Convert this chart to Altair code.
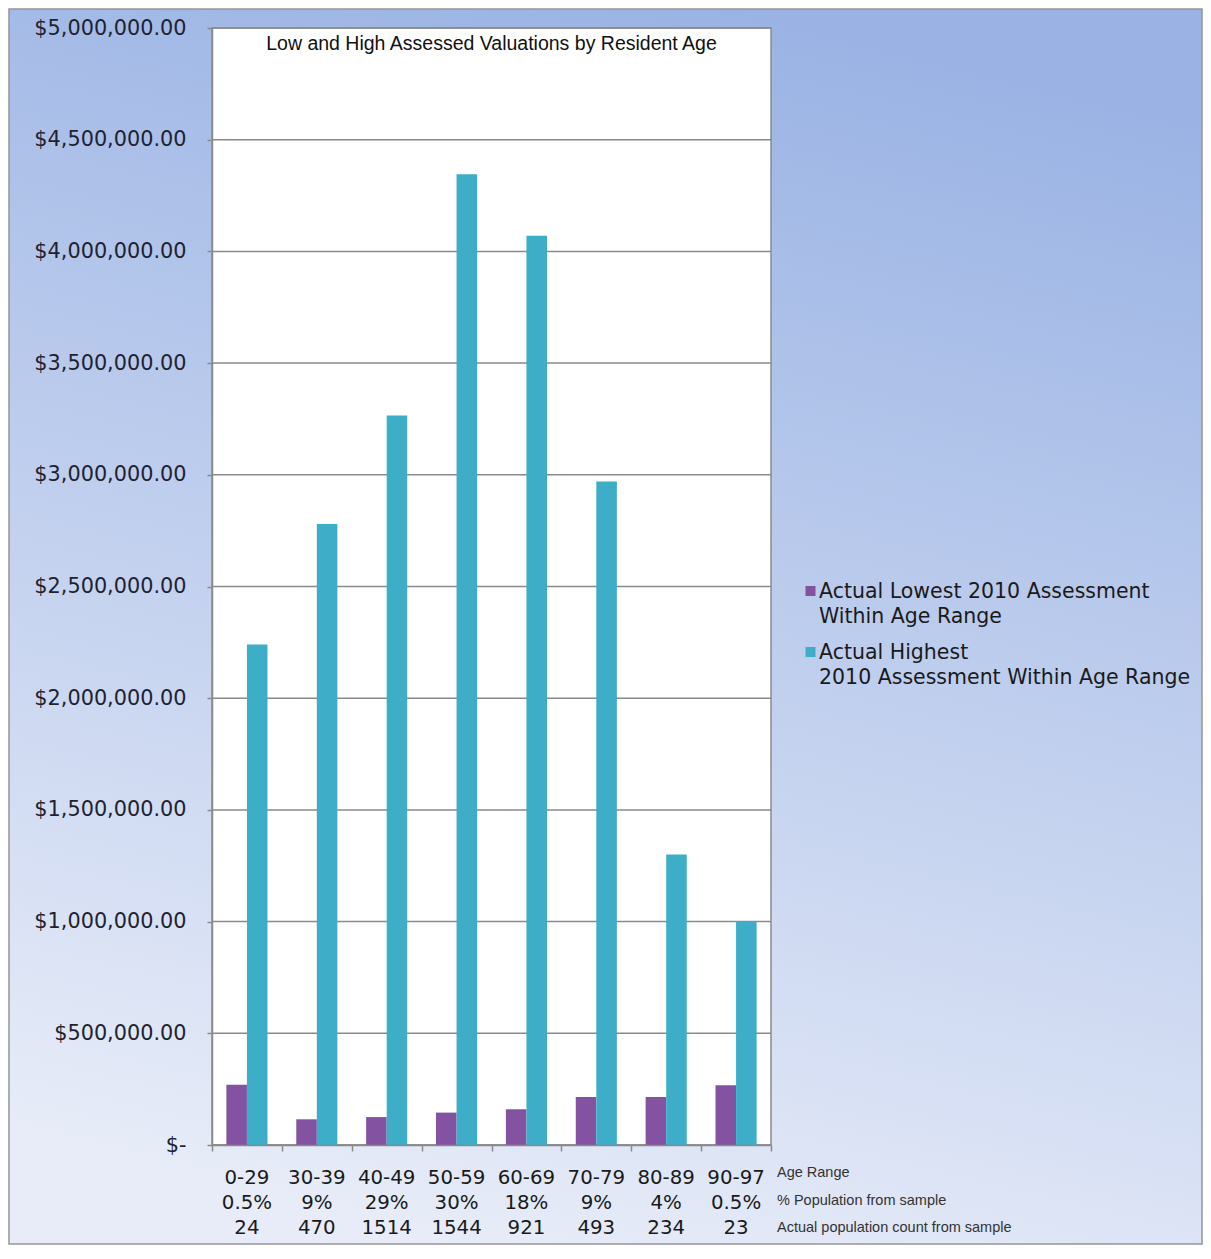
import altair as alt
import pandas as pd

# ---- data ----
ages = ["0-29", "30-39", "40-49", "50-59", "60-69", "70-79", "80-89", "90-97"]
pct = ["0.5%", "9%", "29%", "30%", "18%", "9%", "4%", "0.5%"]
counts = ["24", "470", "1514", "1544", "921", "493", "234", "23"]
low = [270000, 115000, 125000, 145000, 160000, 215000, 215000, 268000]
high = [2240000, 2780000, 3265000, 4345000, 4070000, 2970000, 1300000, 1000000]
series = ["Actual Lowest 2010 Assessment Within Age Range",
          "Actual Highest 2010 Assessment Within Age Range"]
legend_lines = [["Actual Lowest 2010 Assessment", "Within Age Range"],
                ["Actual Highest", "2010 Assessment Within Age Range"]]
row_titles = ["Age Range", "% Population from sample", "Actual population count from sample"]
y_ticks = [0, 500000, 1000000, 1500000, 2000000, 2500000, 3000000,
           3500000, 4000000, 4500000, 5000000]
title_text = "Low and High Assessed Valuations by Resident Age"

colors = ["#8352A1", "#3DADC8"]

rows = []
for a, lo, hi in zip(ages, low, high):
    rows.append({"age": a, "series": series[0], "value": lo})
    rows.append({"age": a, "series": series[1], "value": hi})
df = pd.DataFrame(rows)
cat_df = pd.DataFrame({"age": ages, "pct": pct, "count": counts})
tick_df = pd.DataFrame({"value": y_ticks})
one = pd.DataFrame({"a": [0]})

W, H = 559, 1117
PL, PT, PR, PB = 204, 20, 432, 100
GRAY = "#8a8a8a"

x_enc = alt.X("age:N", sort=ages,
              scale=alt.Scale(paddingInner=0, paddingOuter=0),
              axis=alt.Axis(labels=False, title=None, tickBand="extent", tickSize=6,
                            tickColor=GRAY, domainColor=GRAY, domainWidth=1.5,
                            tickWidth=1.5, grid=False, zindex=1))
y_enc = alt.Y("value:Q", scale=alt.Scale(domain=[0, 5000000], nice=False, zero=True),
              axis=alt.Axis(values=y_ticks, title=None, grid=False, tickSize=5,
                            tickColor=GRAY, tickWidth=1.5, domainColor=GRAY, domainWidth=1.5,
                            labelFont="DejaVu Sans", labelFontSize=20.8, labelColor="#1e2230",
                            labelPadding=21,
                            labelExpr="datum.value == 0 ? '$-' : format(datum.value, '$,.2f')",
                            zindex=1))

bg = alt.Chart(one).mark_rect(
    color=alt.Gradient(gradient="linear",
                       stops=[alt.GradientStop(color="#9AB3E4", offset=0),
                              alt.GradientStop(color="#C0CFEE", offset=0.5),
                              alt.GradientStop(color="#E7ECF8", offset=1)],
                       x1=0.62, y1=0, x2=0.38, y2=1),
    stroke="#959595", strokeWidth=1.5
).encode(x=alt.value(-PL + 1), x2=alt.value(W + PR - 1),
         y=alt.value(-PT + 1), y2=alt.value(H + PB - 1))

plot_bg = alt.Chart(one).mark_rect(fill="white", stroke=GRAY, strokeWidth=1.5).encode(
    x=alt.value(0), x2=alt.value(W), y=alt.value(0), y2=alt.value(H))

grid = alt.Chart(tick_df).mark_rule(color=GRAY, strokeWidth=1.5).encode(y=y_enc)

bars = alt.Chart(df).mark_bar().encode(
    x=x_enc,
    xOffset=alt.XOffset("series:N", sort=series,
                        scale=alt.Scale(paddingInner=0, paddingOuter=0.7)),
    y=y_enc,
    color=alt.Color("series:N", scale=alt.Scale(domain=series, range=colors), legend=None),
)

layers = [bg, plot_bg, grid, bars]

# x label rows
for field, dy in [("age", 33), ("pct", 58), ("count", 83)]:
    layers.append(alt.Chart(cat_df).mark_text(
        font="DejaVu Sans", fontSize=19.8, color="#1a1a1a", align="center", baseline="middle"
    ).encode(x=x_enc, y=alt.value(H + dy), text=f"{field}:N"))

# row titles on right
for t, dy in zip(row_titles, [28, 56, 83]):
    layers.append(alt.Chart(pd.DataFrame({"t": [t]})).mark_text(
        font="Liberation Sans", fontSize=14.5, color="#333333", align="left", baseline="middle"
    ).encode(x=alt.value(W + 6), y=alt.value(H + dy), text="t:N"))

# title
layers.append(alt.Chart(pd.DataFrame({"t": [title_text]})).mark_text(
    font="Liberation Sans", fontSize=19.5, color="#111111", align="center", baseline="middle"
).encode(x=alt.value(W / 2), y=alt.value(16), text="t:N"))

# custom legend
for i, (lines, col) in enumerate(zip(legend_lines, colors)):
    y0 = 563 + i * 61
    layers.append(alt.Chart(pd.DataFrame({"s": [series[i]]})).mark_square(
        size=100, filled=True, color=col, opacity=1
    ).encode(x=alt.value(598.5), y=alt.value(y0)))
    for j, ln in enumerate(lines):
        layers.append(alt.Chart(pd.DataFrame({"t": [ln]})).mark_text(
            font="DejaVu Sans", fontSize=20.5, color="#1a1a1a", align="left", baseline="middle"
        ).encode(x=alt.value(607), y=alt.value(y0 + 0.5 + j * 25.5), text="t:N"))

chart = alt.layer(*layers).properties(
    width=W, height=H,
    autosize=alt.AutoSizeParams(type="none"),
    padding={"left": PL, "top": PT, "right": PR, "bottom": PB},
).configure_view(stroke=None).configure(background="white")

chart.save("out.html", embed_options={"renderer": "svg", "actions": False})
